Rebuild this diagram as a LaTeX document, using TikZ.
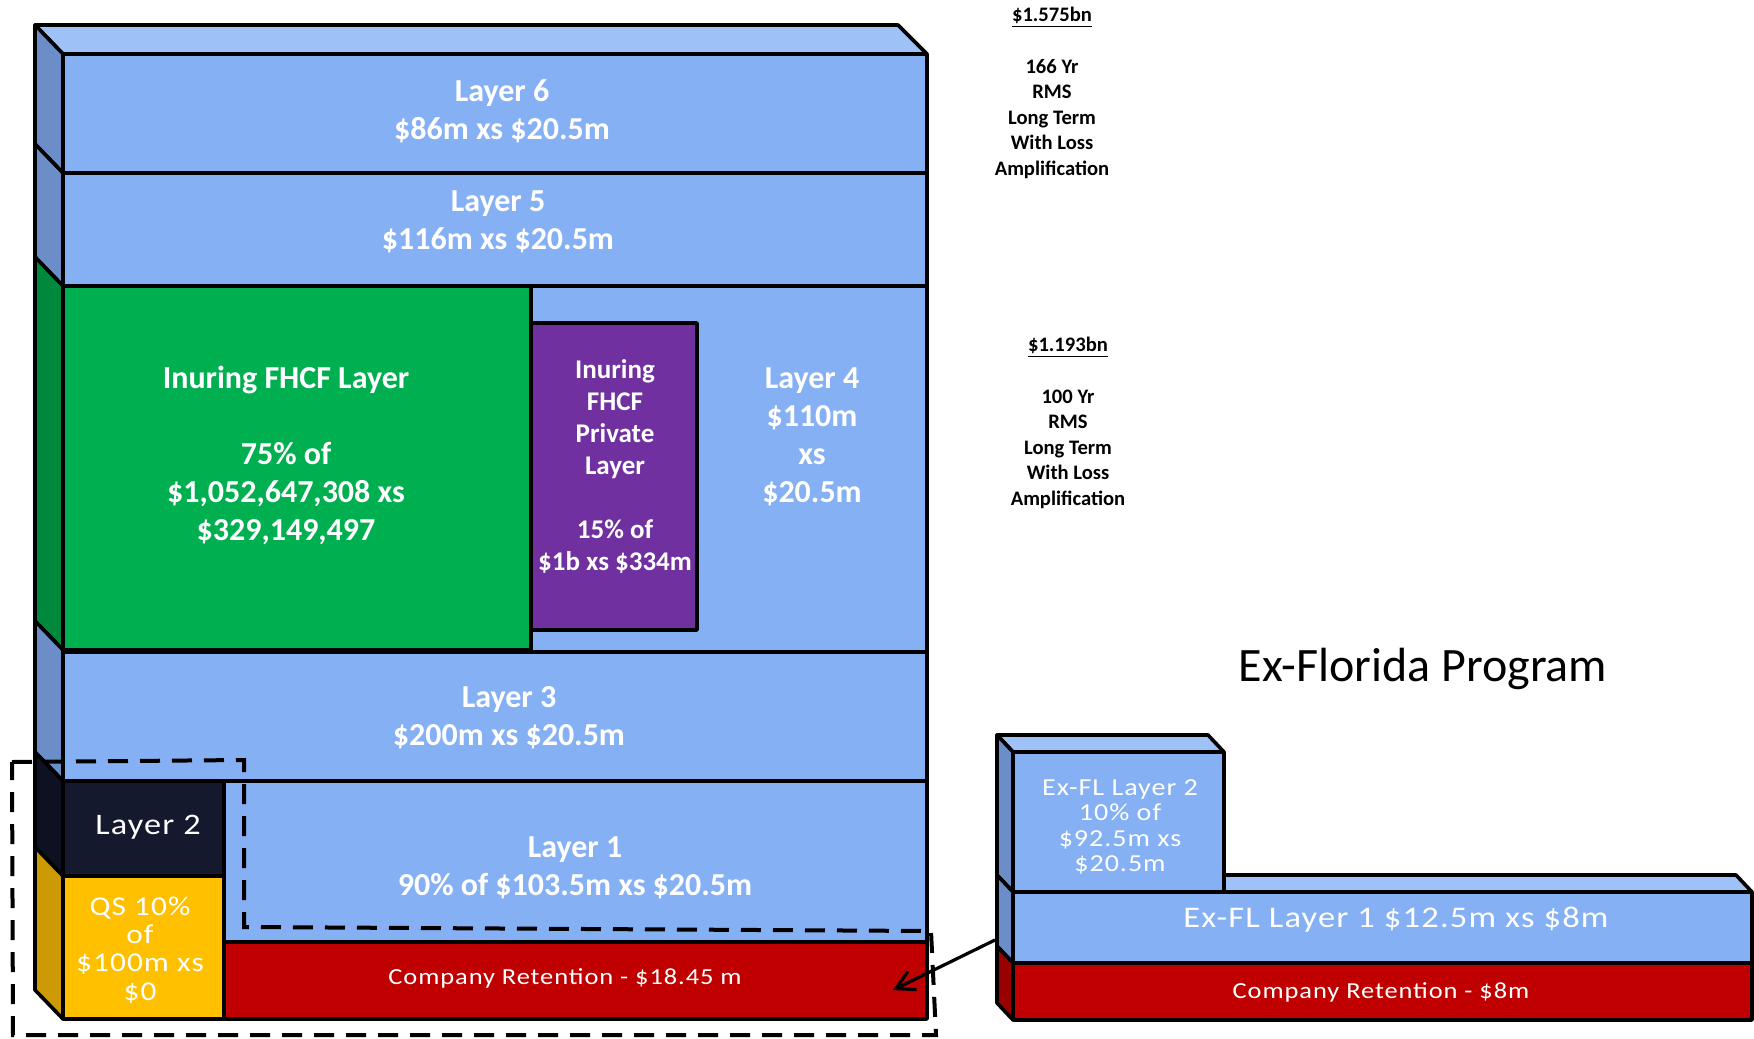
\documentclass[tikz,border=0pt]{standalone}
\usepackage{fontspec}
\setmainfont{Carlito}
\newfontfamily\thinfont[FakeStretch=1.15,LetterSpace=4]{Carlito}
\usetikzlibrary{arrows.meta}

\definecolor{frontblue}{RGB}{133,176,244}
\definecolor{topblue}{RGB}{158,194,248}
\definecolor{sideblue}{RGB}{108,142,200}
\definecolor{fhcfgreen}{RGB}{0,176,80}
\definecolor{sidegreen}{RGB}{0,137,60}
\definecolor{privpurple}{RGB}{112,48,160}
\definecolor{navy}{RGB}{21,25,45}
\definecolor{sidenavy}{RGB}{14,17,34}
\definecolor{qsyellow}{RGB}{255,192,0}
\definecolor{sideyellow}{RGB}{204,154,6}
\definecolor{retred}{RGB}{192,0,0}
\definecolor{sidered}{RGB}{155,0,0}

\begin{document}
\begin{tikzpicture}[x=0.5pt,y=-0.5pt,
    box/.style={draw=black, line width=1.8pt, line join=round},
    lbl/.style={text=white, align=center, font=\bfseries\fontsize{16}{19}\selectfont},
    lite/.style={text=white, align=center},
    note/.style={align=center, font=\bfseries\fontsize{10.3}{12.75}\selectfont}]

    \path[use as bounding box, fill=white] (0,0) rectangle (1754,1038);

    \filldraw[box, fill=topblue] (35,25) -- (898,25) -- (927,54) -- (63,54) -- cycle;
    \foreach \ya/\yb/\col in {54/173/sideblue, 173/286/sideblue, 286/650/sidegreen,
                              650/781/sideblue, 781/876/sidenavy, 876/1019/sideyellow}
        \filldraw[box, fill=\col] (35,\ya-29) -- (63,\ya) -- (63,\yb) -- (35,\yb-29) -- cycle;

    \filldraw[box, fill=frontblue] (63,54) rectangle (927,173);
    \filldraw[box, fill=frontblue] (63,173) rectangle (927,286);
    \filldraw[box, fill=frontblue] (63,286) rectangle (927,652);
    \filldraw[box, fill=fhcfgreen] (63,286) rectangle (531,650);
    \filldraw[box, fill=privpurple] (531,323) rectangle (697,630);
    \filldraw[box, fill=frontblue] (63,652) rectangle (927,781);
    \filldraw[box, fill=navy] (63,781) rectangle (224,876);
    \filldraw[box, fill=qsyellow] (63,876) rectangle (224,1019);
    \filldraw[box, fill=frontblue] (224,781) rectangle (927,942);
    \filldraw[box, fill=retred] (224,942) rectangle (927,1019);

    \filldraw[box, fill=topblue] (1208,875) -- (1736,875) -- (1752,892) -- (1224,892) -- cycle;
    \filldraw[box, fill=topblue] (997,735) -- (1208,735) -- (1224,752) -- (1013,752) -- cycle;
    \filldraw[box, fill=sideblue] (997,735) -- (1013,752) -- (1013,892) -- (997,875) -- cycle;
    \filldraw[box, fill=frontblue] (1013,752) rectangle (1224,892);
    \filldraw[box, fill=sideblue] (997,875) -- (1013,892) -- (1013,963) -- (997,946) -- cycle;
    \filldraw[box, fill=frontblue] (1013,892) rectangle (1752,963);
    \filldraw[box, fill=sidered] (997,946) -- (1013,963) -- (1013,1020) -- (997,1003) -- cycle;
    \filldraw[box, fill=retred] (1013,963) rectangle (1752,1020);

    \node[lbl] (l6) at (502,111) {Layer 6\\\$86m xs \$20.5m};
    \node[lbl] (l5) at (498,222) {Layer 5\\\$116m xs \$20.5m};
    \node[lbl] (fhcf) at (286,455) {Inuring FHCF Layer\\\mbox{}\\75\% of\\\$1,052,647,308 xs\\\$329,149,497};
    \node[lbl, font=\bfseries\fontsize{13.5}{16}\selectfont] (priv) at (615,466)
        {Inuring\\FHCF\\Private\\Layer\\\mbox{}\\15\% of\\\$1b xs \$334m};
    \node[lbl] (l4) at (812,437) {Layer 4\\\$110m\\xs\\\$20.5m};
    \node[lbl] (l3) at (509,718) {Layer 3\\\$200m xs \$20.5m};
    \node[lbl] (l1) at (575,868) {Layer 1\\90\% of \$103.5m xs \$20.5m};
    \node[lite, font=\thinfont\fontsize{14.9}{17}\selectfont] (l2) at (148,827) {Layer 2};
    \node[lite, font=\thinfont\fontsize{13.6}{14.2}\selectfont] (qs) at (140,950) {QS 10\%\\of\\\$100m xs\\\$0};
    \node[lite, font=\thinfont\fontsize{11.5}{14}\selectfont] (ret) at (565,978) {Company Retention - \$18.45 m};

    \node[lite, font=\thinfont\fontsize{12.2}{12.7}\selectfont] (exl2) at (1120,827) {Ex-FL Layer 2\\10\% of\\\$92.5m xs\\\$20.5m};
    \node[lite, font=\thinfont\fontsize{15}{18}\selectfont] (exl1) at (1396,920) {Ex-FL Layer 1 \$12.5m xs \$8m};
    \node[lite, font=\thinfont\fontsize{11.5}{13}\selectfont] (exret) at (1381,992) {Company Retention - \$8m};
    \node[font=\fontsize{24}{28}\selectfont] (exfl) at (1423,669) {Ex-Florida Program};

    \node[note] (rp166) at (1052,17) {\underline{\$1.575bn}};
    \node[note] (rms166) at (1052,119) {166 Yr\\RMS\\Long Term\\With Loss\\Amplification};
    \node[note] (rp100) at (1068,347) {\underline{\$1.193bn}};
    \node[note] (rms100) at (1068,449) {100 Yr\\RMS\\Long Term\\With Loss\\Amplification};

    \draw[black, line width=2pt, dash pattern=on 10pt off 6pt]
        (12,762) -- (244,760) -- (244,927) -- (931,931) -- (936,1035) -- (13,1035) -- cycle;

    \coordinate (exfl-side) at (995,940);
    \coordinate (ret-tip) at (893,990);
    \draw[line width=1.6pt, -{Straight Barb[length=9pt,width=10pt]}] (exfl-side) -- (ret-tip);

\end{tikzpicture}
\end{document}
